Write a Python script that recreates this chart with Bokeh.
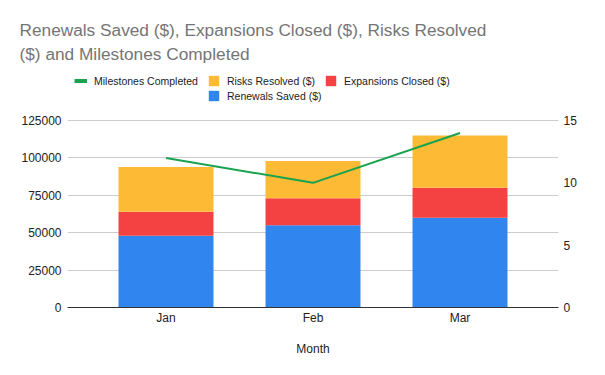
from bokeh.plotting import figure
from bokeh.models import (ColumnDataSource, FactorRange, Range1d, LinearAxis, FixedTicker,
                          Legend, LegendItem, Title)
from bokeh.embed import file_html
from bokeh.resources import INLINE

months = ["Jan", "Feb", "Mar"]
renewals = [48000, 55000, 60000]
expansions = [16000, 18000, 20000]
risks = [30000, 25000, 35000]
milestones = [12, 10, 14]
left_ticks = [0, 25000, 50000, 75000, 100000, 125000]
right_ticks = [0, 5, 10, 15]
title_lines = ["Renewals Saved ($), Expansions Closed ($), Risks Resolved",
               "($) and Milestones Completed"]

BLUE, RED, ORANGE, GREEN = "#3085EE", "#F44243", "#FDBA34", "#19A24F"
FONT = "Liberation Sans"

# frame geometry: data part spans 187px, frame extends upward to hold the legend
W, H = 604, 374
F_LEFT, F_RIGHT, F_TOP, F_BOTTOM = 67, 558, 66, 307
scale = (F_BOTTOM - F_TOP) / (F_BOTTOM - 120)

src = ColumnDataSource(dict(month=months, renewals=renewals, expansions=expansions,
                            risks=risks, milestones=milestones))

p = figure(width=W, height=H, output_backend="svg", toolbar_location=None, title=None,
           x_range=FactorRange(*months, range_padding=0.17, range_padding_units="absolute"),
           y_range=Range1d(0, max(left_ticks) * scale),
           min_border_left=F_LEFT, min_border_right=W - F_RIGHT,
           min_border_top=F_TOP, min_border_bottom=H - F_BOTTOM,
           styles={"outline": "2px solid #2A7DE1", "outline-offset": "-3px"})
p.outline_line_color = None
p.background_fill_color = "white"
p.border_fill_color = "white"

stack = p.vbar_stack(["renewals", "expansions", "risks"], x="month", width=0.646,
                     color=[BLUE, RED, ORANGE], line_color=None, source=src)

p.extra_y_ranges = {"right": Range1d(0, max(right_ticks) * scale)}
line = p.line(x="month", y="milestones", source=src, y_range_name="right",
              line_color=GREEN, line_width=2)
# legend-only swatch (thicker line), no visible data
swatch = p.line(x=[months[0]], y=[float("nan")], y_range_name="right",
                line_color=GREEN, line_width=4)

# axes
p.yaxis.ticker = FixedTicker(ticks=left_ticks)
p.yaxis.axis_line_color = None
p.yaxis.major_tick_line_color = None
p.yaxis.minor_tick_line_color = None
p.yaxis.major_tick_in = 0
p.yaxis.major_tick_out = 0
p.yaxis.major_label_standoff = 6
p.yaxis.major_label_text_font = FONT
p.yaxis.major_label_text_font_size = "12px"
p.yaxis.major_label_text_color = "#222222"
p.yaxis.formatter.use_scientific = False

ra = LinearAxis(y_range_name="right", ticker=FixedTicker(ticks=right_ticks))
ra.axis_line_color = None
ra.major_tick_line_color = None
ra.minor_tick_line_color = None
ra.major_tick_in = 0
ra.major_tick_out = 0
ra.major_label_standoff = 5
ra.major_label_text_font = FONT
ra.major_label_text_font_size = "12px"
ra.major_label_text_color = "#222222"
p.add_layout(ra, "right")

p.xaxis.axis_line_color = "#333333"
p.xaxis.axis_line_width = 1
p.xaxis.major_tick_line_color = None
p.xaxis.minor_tick_line_color = None
p.xaxis.major_tick_in = 0
p.xaxis.major_tick_out = 0
p.xaxis.major_label_standoff = 3
p.xaxis.major_label_text_font = FONT
p.xaxis.major_label_text_font_size = "12px"
p.xaxis.major_label_text_color = "#222222"
p.xaxis.axis_label = "Month"
p.xaxis.axis_label_text_font = FONT
p.xaxis.axis_label_text_font_size = "12px"
p.xaxis.axis_label_text_font_style = "normal"
p.xaxis.axis_label_text_color = "#222222"
p.xaxis.axis_label_standoff = 14

p.xgrid.grid_line_color = None
p.ygrid.grid_line_color = "#CCCCCC"
p.ygrid.ticker = FixedTicker(ticks=left_ticks)

# two-line title: first added sits nearest the frame
for txt, so in [(title_lines[1], 5), (title_lines[0], 0)]:
    p.add_layout(Title(text=txt, align="left", offset=19 - F_LEFT, standoff=so,
                       text_font=FONT, text_font_size="17.25px", text_color="#757575",
                       text_font_style="normal"), "above")

def make_legend(items, vx, vy):
    lg = Legend(items=items, location=(vx, vy), orientation="horizontal",
                glyph_width=13, glyph_height=13, label_height=13, label_standoff=7,
                spacing=9, padding=0, margin=0, border_line_color=None,
                background_fill_alpha=0, label_text_font=FONT,
                label_text_font_size="10.5px", label_text_color="#222222")
    p.add_layout(lg, "center")

make_legend([LegendItem(label="Milestones Completed", renderers=[swatch]),
             LegendItem(label="Risks Resolved ($)", renderers=[stack[2]]),
             LegendItem(label="Expansions Closed ($)", renderers=[stack[1]])], 7, 220)
make_legend([LegendItem(label="Renewals Saved ($)", renderers=[stack[0]])], 140, 205)

open("out.html", "w").write(file_html(p, INLINE))
